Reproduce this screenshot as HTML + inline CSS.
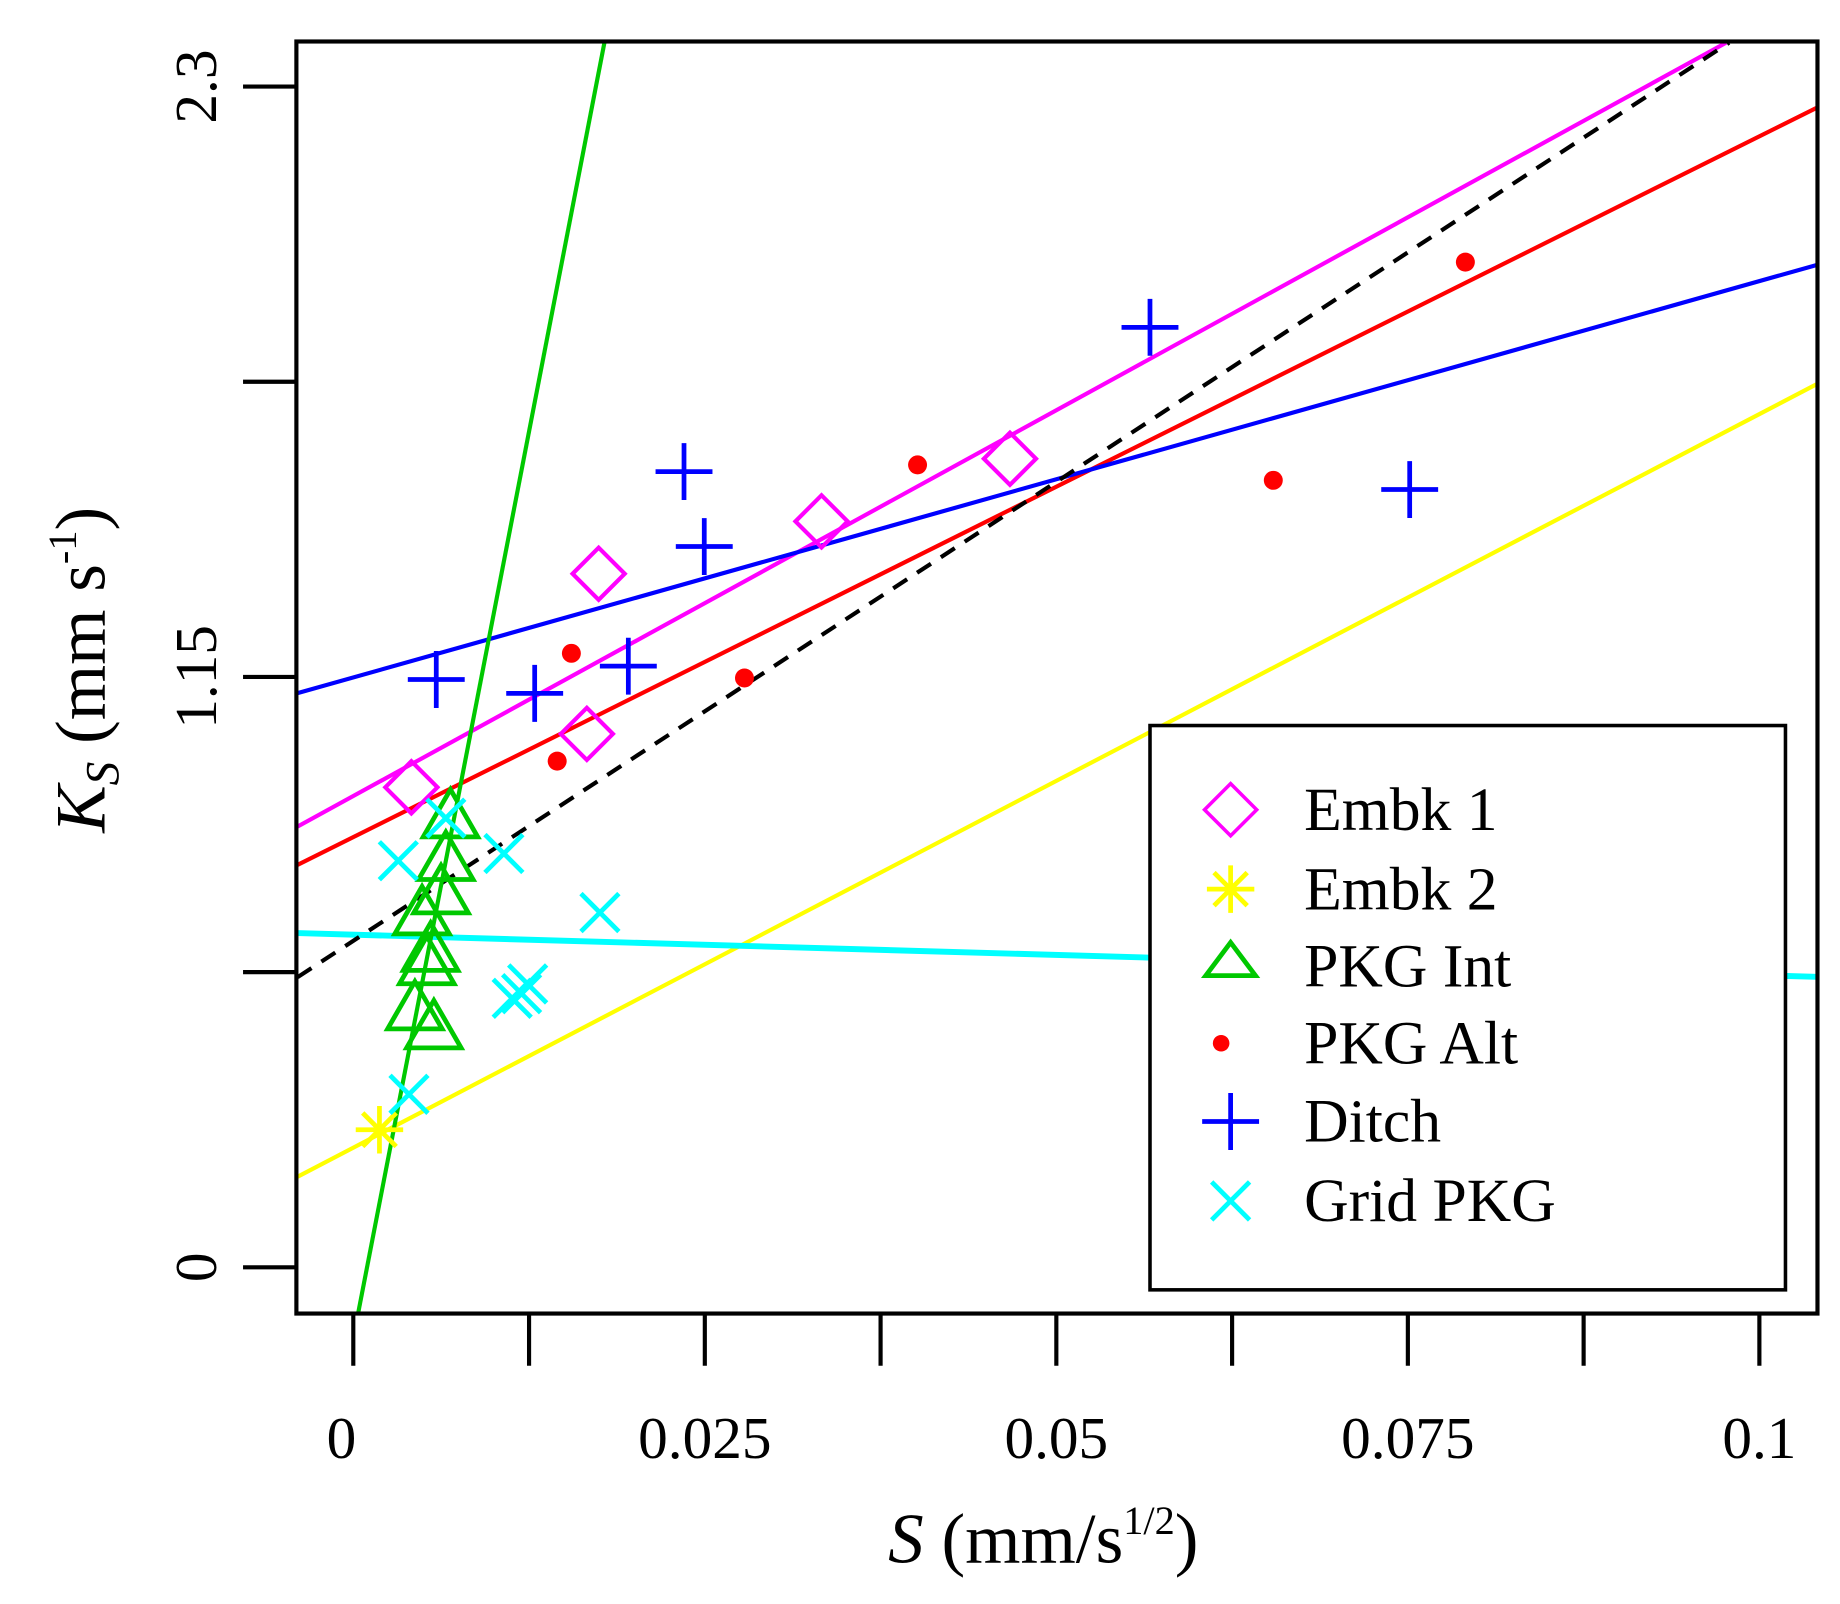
<!DOCTYPE html>
<html><head><meta charset="utf-8"><style>html,body{margin:0;padding:0;background:#fff;width:1840px;height:1604px;overflow:hidden;position:relative}svg{display:block;position:absolute;left:0;top:0;overflow:hidden}</style></head>
<body>
<svg id="chart" width="1840" height="1604" viewBox="0 0 1552 1353" preserveAspectRatio="none" xmlns="http://www.w3.org/2000/svg" font-family="'Liberation Serif', serif"></svg>
<svg width="1840" height="1604" viewBox="0 0 1552 1353" preserveAspectRatio="none" xmlns="http://www.w3.org/2000/svg" font-family="'Liberation Serif', serif">
<text x="880" y="1318" text-anchor="middle" font-size="60"><tspan font-style="italic">S</tspan> (mm/s<tspan font-size="34" dy="-24">1/2</tspan><tspan dy="24">)</tspan></text>
<text transform="translate(88,565) rotate(-90)" text-anchor="middle" font-size="60"><tspan font-style="italic">K</tspan><tspan font-style="italic" font-size="40" dy="12">S</tspan><tspan dy="-12">  (mm s</tspan><tspan font-size="34" dy="-24">-1</tspan><tspan dy="24">)</tspan></text>
<g>
<rect x="970" y="612" width="536" height="476" fill="#fff" stroke="#000" stroke-width="3"/>
<g><path d="M1016,683 L1038,661 L1060,683 L1038,705 Z" fill="none" stroke="#ff00ff" stroke-width="3"/><text x="1100" y="700" font-size="52">Embk 1</text></g>
<g><g stroke="#ffff00" stroke-width="4"><line x1="1018" y1="750" x2="1058" y2="750"/><line x1="1038" y1="730" x2="1038" y2="770"/><line x1="1024" y1="736" x2="1052" y2="764"/><line x1="1024" y1="764" x2="1052" y2="736"/></g><text x="1100" y="767" font-size="52">Embk 2</text></g>
<g><path d="M1017,823 L1038,795 L1059,823 Z" fill="none" stroke="#00c800" stroke-width="4"/><text x="1100" y="832" font-size="52">PKG Int</text></g>
<g><circle cx="1030" cy="880" r="7" fill="#ff0000"/><text x="1100" y="897" font-size="52">PKG Alt</text></g>
<g><g stroke="#0000ff" stroke-width="4"><line x1="1014" y1="946" x2="1062" y2="946"/><line x1="1038" y1="922" x2="1038" y2="970"/></g><text x="1100" y="963" font-size="52">Ditch</text></g>
<g><g stroke="#00ffff" stroke-width="4"><line x1="1022" y1="997" x2="1054" y2="1029"/><line x1="1022" y1="1029" x2="1054" y2="997"/></g><text x="1100" y="1030" font-size="52">Grid PKG</text></g>
</g>
</svg>
<script>
const xTicks=[0,0.0125,0.025,0.0375,0.05,0.0625,0.075,0.0875,0.1];
const xTickLabels=["0","","0.025","","0.05","","0.075","","0.1"];
const yTicks=[0,0.575,1.15,1.725,2.3];
const yTickLabels=["0","","1.15","","2.3"];
const embk1X=[0.00413,0.01745,0.01661,0.0333,0.0467];
const embk1Y=[0.935,1.351,1.039,1.453,1.575];
const embk2X=[0.00186];
const embk2Y=[0.268];
const pkgIntX=[0.00691,0.00658,0.00624,0.00489,0.00523,0.00438,0.00573,0.0055];
const pkgIntY=[0.880,0.797,0.732,0.691,0.594,0.506,0.469,0.62];
const pkgAltX=[0.01551,0.0145,0.02782,0.04013,0.06543,0.07909];
const pkgAltY=[1.196,0.986,1.148,1.563,1.533,1.958];
const ditchX=[0.0059,0.0129,0.01956,0.02352,0.02496,0.05666,0.07513];
const ditchY=[1.145,1.118,1.171,1.550,1.404,1.831,1.515];
const gridX=[0.0032,0.01071,0.01754,0.01197,0.0113,0.0124,0.00396,0.00658];
const gridY=[0.792,0.806,0.691,0.533,0.524,0.552,0.337,0.875];
const lineNames=["embk1-fit","pkg-alt-fit","ditch-fit","embk2-fit","grid-pkg-fit","overall-fit","pkg-int-fit"];
const lineIntercepts=[0.918,0.838,1.149,0.233,0.648,0.636,-0.138];
const lineSlopes=[15.03,13.65,7.72,14.29,-0.79,17.88,141.3];
const lineColors=["#ff00ff","#ff0000","#0000ff","#ffff00","#00ffff","#000","#00c800"];

const L=250,T=35,R=1533,B=1108;
const sx=v=>298+v*11860, sy=v=>1069-v*433.04;
const ix=p=>(p-298)/11860, iy=p=>(1069-p)/433.04;
const NS="http://www.w3.org/2000/svg";
const svg=document.getElementById('chart');
function mk(tag,attrs,parent){const e=document.createElementNS(NS,tag);for(const k in attrs)e.setAttribute(k,attrs[k]);(parent||svg).appendChild(e);return e;}
const plot=mk('g',{});


const xMin=ix(L+1),xMax=ix(R-1),yMin=iy(B-1),yMax=iy(T+1);
lineNames.forEach((n,i)=>{
  const a=lineIntercepts[i],b=lineSlopes[i];
  let x0=xMin,x1=xMax;
  if(b!==0){
    const xa=(yMin-a)/b,xb=(yMax-a)/b;
    x0=Math.max(x0,Math.min(xa,xb));x1=Math.min(x1,Math.max(xa,xb));
  }
  const ln=mk('line',{x1:sx(x0),y1:sy(a+b*x0),x2:sx(x1),y2:sy(a+b*x1),stroke:lineColors[i],'stroke-width':i==4?5:3.5,'stroke-dasharray':i==5?'14 10':'none'},plot);
  
  
});
function sym(type,cx,cy,g,s){
  s=s||1;
  if(type==0){mk('path',{d:`M${cx-22*s},${cy} L${cx},${cy-22*s} L${cx+22*s},${cy} L${cx},${cy+22*s} Z`,fill:'none',stroke:'#ff00ff','stroke-width':3.5},g);}
  else if(type==1){for(let a=0;a<4;a++){const t=a*Math.PI/4,d=20*s;mk('line',{x1:cx-d*Math.cos(t),y1:cy-d*Math.sin(t),x2:cx+d*Math.cos(t),y2:cy+d*Math.sin(t),stroke:'#ffff00','stroke-width':4},g);}}
  else if(type==2){mk('path',{d:`M${cx-23*s},${cy+18*s} L${cx},${cy-22*s} L${cx+23*s},${cy+18*s} Z`,fill:'none',stroke:'#00c800','stroke-width':4},g);}
  else if(type==3){mk('circle',{cx:cx,cy:cy,r:8*s,fill:'#ff0000'},g);}
  else if(type==4){mk('line',{x1:cx-24*s,y1:cy,x2:cx+24*s,y2:cy,stroke:'#0000ff','stroke-width':4},g);mk('line',{x1:cx,y1:cy-24*s,x2:cx,y2:cy+24*s,stroke:'#0000ff','stroke-width':4},g);}
  else {const d=16*s;mk('line',{x1:cx-d,y1:cy-d,x2:cx+d,y2:cy+d,stroke:'#00ffff','stroke-width':4},g);mk('line',{x1:cx-d,y1:cy+d,x2:cx+d,y2:cy-d,stroke:'#00ffff','stroke-width':4},g);}
}
const series=[[embk1X,embk1Y,'embk1-point'],[embk2X,embk2Y,'embk2-point'],[pkgIntX,pkgIntY,'pkg-int-point'],[pkgAltX,pkgAltY,'pkg-alt-point'],[ditchX,ditchY,'ditch-point'],[gridX,gridY,'grid-pkg-point']];
series.forEach((s,t)=>{s[0].forEach((x,i)=>{
  const g=mk('g',{},plot);
  
  
  sym(t,sx(x),sy(s[1][i]),g);
});});
const fr=mk('rect',{x:L,y:T,width:R-L,height:B-T,fill:'none',stroke:'#000','stroke-width':3.5});


xTicks.forEach((v,i)=>{
  const tk=mk('line',{x1:sx(v),y1:B,x2:sx(v),y2:B+44,stroke:'#000','stroke-width':3.5});
  
  
  if(xTickLabels[i]){const t=mk('text',{x:sx(v)-(i==0?10:0),y:1230,'text-anchor':'middle','font-size':50});t.textContent=xTickLabels[i];
  
  }
});
yTicks.forEach((v,i)=>{
  const tk=mk('line',{x1:L,y1:sy(v),x2:L-45,y2:sy(v),stroke:'#000','stroke-width':3.5});
  
  
  if(yTickLabels[i]){const t=mk('text',{x:0,y:0,transform:`translate(182,${sy(v)}) rotate(-90)`,'text-anchor':'middle','font-size':50});t.textContent=yTickLabels[i];
  
  }
});
</script>
</body></html>
